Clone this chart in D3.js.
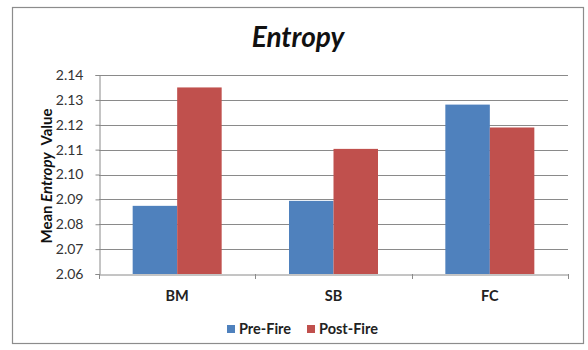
<!DOCTYPE html>
<html><head><meta charset="utf-8">
<script src="https://cdn.jsdelivr.net/npm/d3@7"></script>
<style>body{margin:0;background:#fff}svg{display:block}text{font-family:Lato,"Open Sans",sans-serif}</style>
</head><body>
<svg id="c" width="588" height="350"></svg>
<script>
const categories = ["BM", "SB", "FC"];
const seriesNames = ["Pre-Fire", "Post-Fire"];
const preFire = [2.0874, 2.0894, 2.1281];
const postFire = [2.1350, 2.1103, 2.1189];
const yTicks = [2.06, 2.07, 2.08, 2.09, 2.10, 2.11, 2.12, 2.13, 2.14];
const colors = ["#4F81BD", "#C0504D"];

const svg = d3.select("#c");
svg.append("rect").attr("x", 12.5).attr("y", 7.5).attr("width", 571).attr("height", 336)
  .attr("fill", "#fff").attr("stroke", "#8c8c8c").attr("stroke-width", 1.2);

const m = {l: 99, r: 568, t: 75, b: 274};
const x = d3.scaleBand().domain(categories).range([m.l, m.r]).paddingInner(0).paddingOuter(0);
const y = d3.scaleLinear().domain([2.06, 2.14]).range([m.b, m.t]);

// gridlines
svg.append("g").selectAll("line").data(yTicks.slice(1)).join("line")
  .attr("x1", m.l).attr("x2", m.r).attr("y1", d => Math.round(y(d)) + 0.5).attr("y2", d => Math.round(y(d)) + 0.5)
  .attr("stroke", "#8a8a8a").attr("stroke-width", 1);

// y axis
const ya = svg.append("g").attr("transform", `translate(${m.l + 0.5},0)`)
  .call(d3.axisLeft(y).tickValues(yTicks).tickFormat(d3.format(".2f")).tickSize(4).tickPadding(12));
ya.select(".domain").attr("stroke", "#8a8a8a");
ya.selectAll(".tick line").attr("stroke", "#8a8a8a");
ya.selectAll("text").attr("font-size", 14).attr("fill", "#333");

// bars
const sub = d3.scaleBand().domain(seriesNames).range([0, 89]);
const data = categories.map((c, i) => ({c, vals: [preFire[i], postFire[i]]}));
const groups = svg.append("g").selectAll("g").data(data).join("g")
  .attr("transform", d => `translate(${x(d.c) + (x.bandwidth() - 89) / 2},0)`);
groups.selectAll("rect").data(d => d.vals.map((v, j) => ({v, j}))).join("rect")
  .attr("x", d => sub(seriesNames[d.j])).attr("width", sub.bandwidth())
  .attr("y", d => y(d.v)).attr("height", d => y(2.06) - y(d.v))
  .attr("fill", d => colors[d.j]);

// x axis
const xa = svg.append("g").attr("transform", `translate(0,${m.b + 0.5})`)
  .call(d3.axisBottom(x).tickSize(0).tickPadding(0).tickFormat(""));
xa.select(".domain").attr("stroke", "#8a8a8a");
svg.append("g").selectAll("line").data([m.l, ...categories.map(c => x(c) + x.bandwidth())]).join("line")
  .attr("x1", d => Math.round(d) + 0.5).attr("x2", d => Math.round(d) + 0.5)
  .attr("y1", m.b).attr("y2", m.b + 5).attr("stroke", "#8a8a8a");
svg.append("g").selectAll("text").data(categories).join("text")
  .attr("x", d => x(d) + x.bandwidth() / 2).attr("y", 301).attr("text-anchor", "middle")
  .attr("font-size", 14.5).attr("font-weight", "bold").attr("fill", "#222").text(d => d);

// title
svg.append("text").attr("x", 298).attr("y", 47).attr("text-anchor", "middle")
  .attr("font-size", 28).attr("font-weight", "bold").attr("font-style", "italic").attr("fill", "#111").text("Entropy");

// y label
const yl = svg.append("text").attr("transform", "translate(52,176) rotate(-90)").attr("text-anchor", "middle")
  .attr("font-size", 15).attr("font-weight", "bold").attr("fill", "#111");
yl.append("tspan").text("Mean ");
yl.append("tspan").attr("font-style", "italic").text("Entropy");
yl.append("tspan").text("\u00a0\u00a0Value");

// legend
const legX = [227, 307];
const leg = svg.append("g").selectAll("g").data(seriesNames).join("g")
  .attr("transform", (d, i) => `translate(${legX[i]},325)`);
leg.append("rect").attr("width", 8).attr("height", 8).attr("fill", (d, i) => colors[i]);
leg.append("text").attr("x", 12).attr("y", 9).attr("font-size", 14.5).attr("font-weight", "bold").attr("fill", "#222").text(d => d);
</script>
</body></html>
